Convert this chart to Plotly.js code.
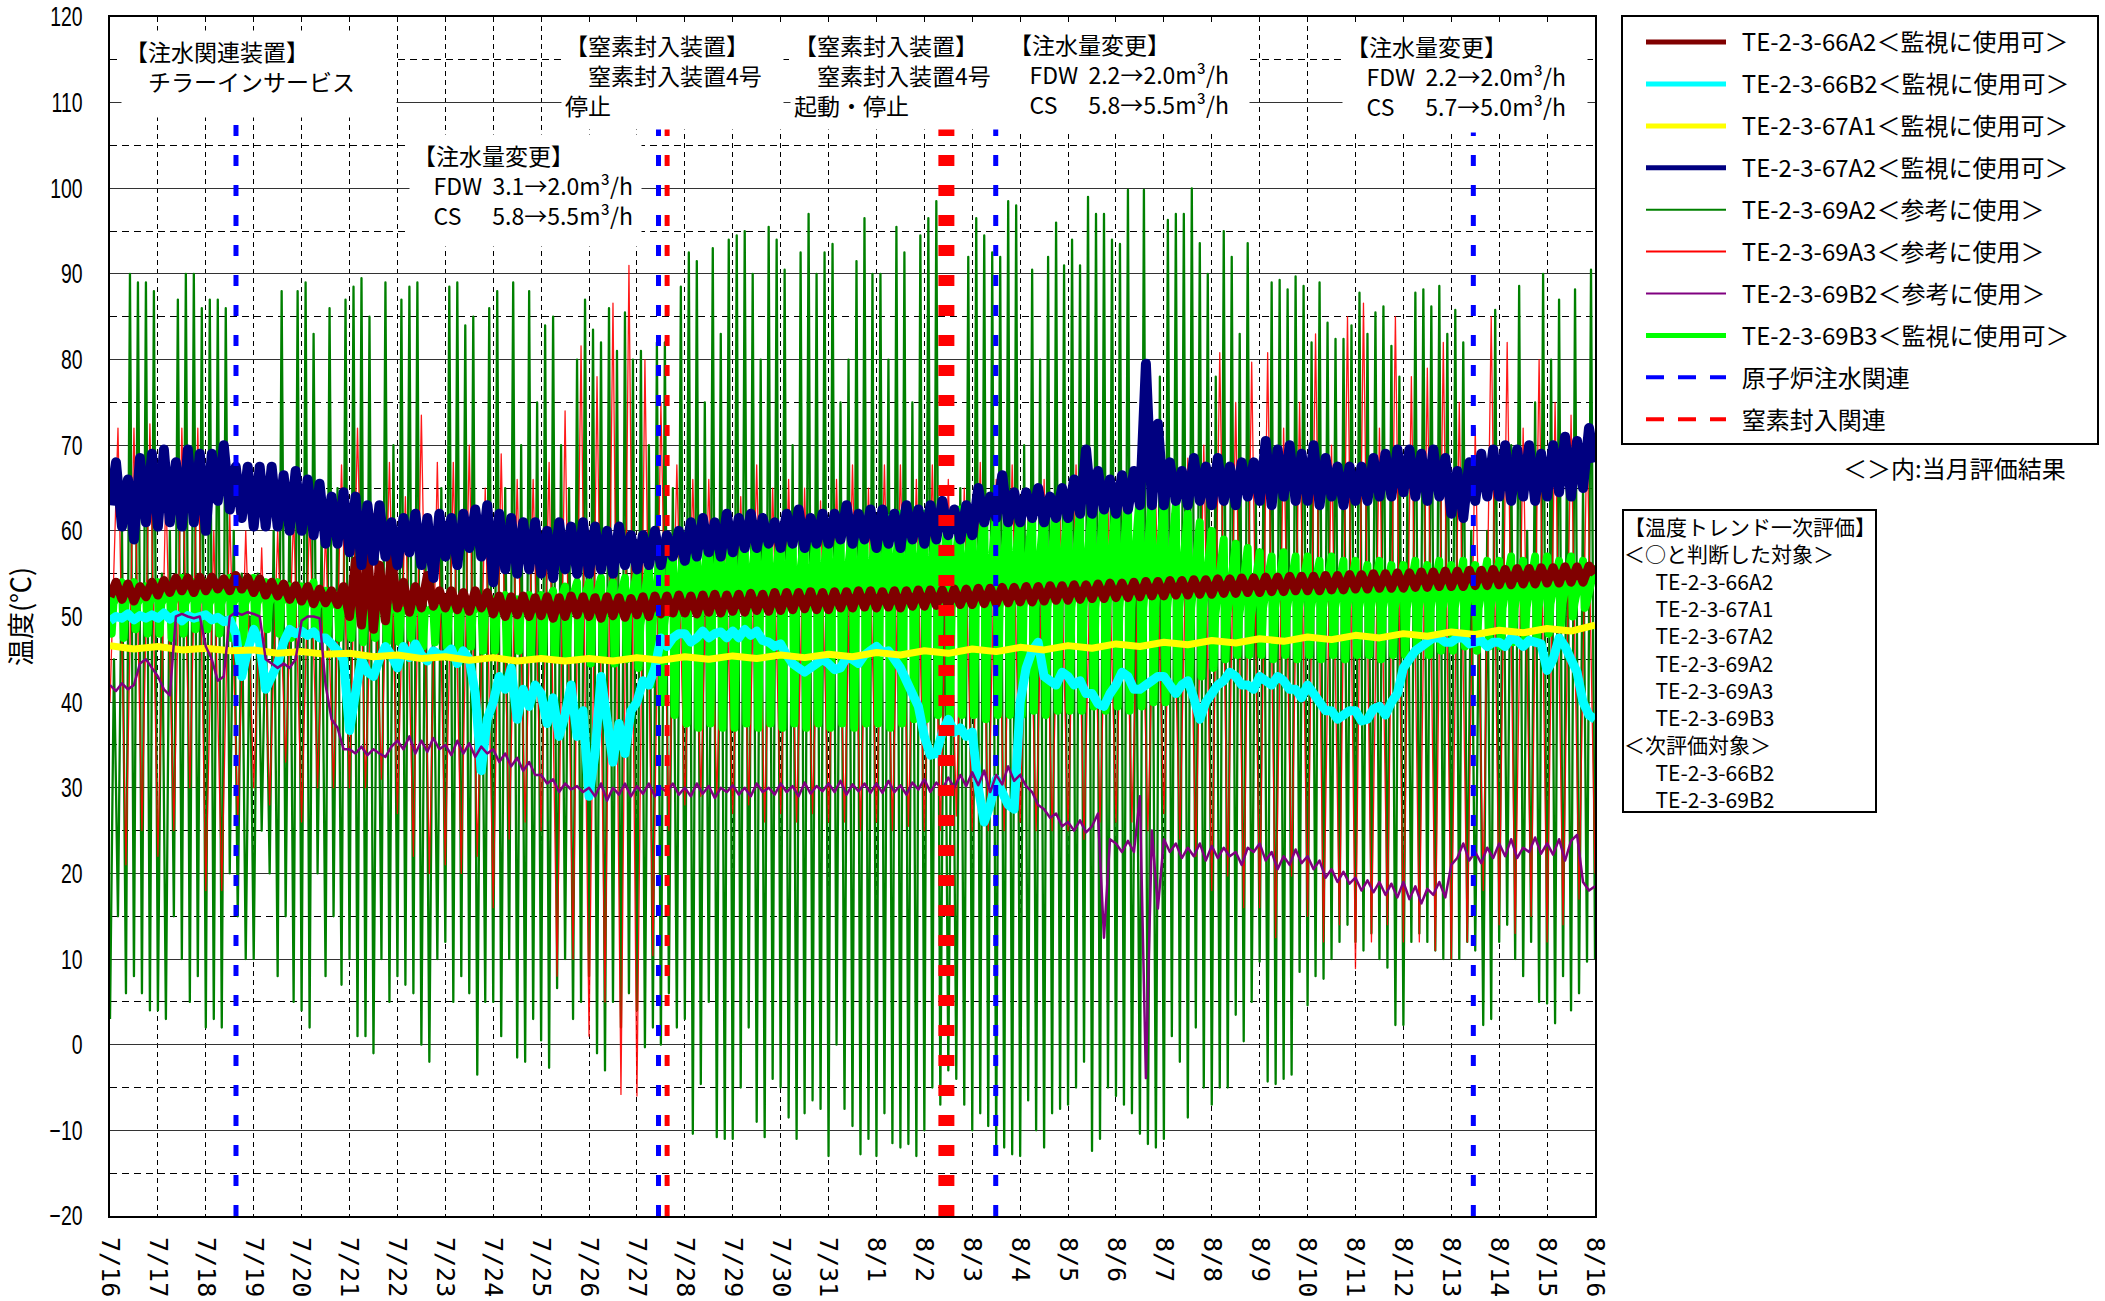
<!DOCTYPE html>
<html><head><meta charset="utf-8">
<script src="https://cdn.plot.ly/plotly-3.0.1.min.js"></script>
<style>
html,body{margin:0;padding:0;background:#fff}
#chart{width:2105px;height:1301px}
path.js-line{stroke-linejoin:round}
</style>
</head><body><div id="chart"></div>
<script>
// ---------- categories / tick labels ----------
const DATE_LABELS = ['7/16','7/17','7/18','7/19','7/20','7/21','7/22','7/23','7/24','7/25','7/26','7/27','7/28','7/29','7/30','7/31',
  '8/1','8/2','8/3','8/4','8/5','8/6','8/7','8/8','8/9','8/10','8/11','8/12','8/13','8/14','8/15','8/16'];
const NAMES = ['TE-2-3-66A2＜監視に使用可＞','TE-2-3-66B2＜監視に使用可＞','TE-2-3-67A1＜監視に使用可＞','TE-2-3-67A2＜監視に使用可＞',
  'TE-2-3-69A2＜参考に使用＞','TE-2-3-69A3＜参考に使用＞','TE-2-3-69B2＜参考に使用＞','TE-2-3-69B3＜監視に使用可＞','原子炉注水関連','窒素封入関連'];

// ---------- event times (days after 7/16 0:00) ----------
const INJECTION_EVENTS = [2.63, 11.45, 18.49, 28.46];
const N2_EVENTS = [11.63, 17.46];

// ---------- series values (°C) ----------
// TE-2-3-66A2 : 8 samples / day
const TE_66A2 = [
52.3,54,52,53.8,51.8,53.5,52.3,54, 52.5,54.2,52.8,54.5,53,54.5,52.8,54.6, 53,54.6,53.2,54.4,53,54.8,53.2,54.5,
52.8,54.4,52.5,54,52.4,53.8,52,53.6, 51.8,53.5,51.5,53.2,51.6,53,51.4,53.5, 50,56.5,49,57.5,48.5,56,49.5,57,
51,54,50.5,53.5,51,54.8,51.2,53, 51,53,50.8,52.8,50.6,53,51,52.8, 50.3,52.4,50,52.3,50.2,52.4,50,52.2,
50.1,52.3,49.8,52.2,50,52.4,50.2,52.3, 50,52.2,49.8,52.3,50.1,52.2,49.9,52.1, 50.2,52.3,50,52.4,50.3,52.4,50.4,52.5,
50.4,52.4,50.3,52.5,50.5,52.6,50.4,52.5, 50.6,52.6,50.5,52.7,50.7,52.6,50.6,52.8, 50.7,52.8,50.8,52.8,50.9,52.9,50.8,52.8,
50.8,52.9,51,52.9,51,53,51.1,53, 51,52.9,51.1,53,51,53,51.2,53.1, 51.2,53.1,51.3,53.1,51.2,53.2,51.4,53.2,
51.4,53.3,51.5,53.3,51.5,53.4,51.6,53.4, 51.7,53.5,51.7,53.5,51.8,53.6,51.9,53.6, 51.9,53.7,52,53.7,52.1,53.8,52.1,53.9,
52.2,53.9,52.2,54,52.3,54.1,52.4,54.1, 52.4,54.2,52.5,54.2,52.5,54.3,52.6,54.3, 52.6,54.4,52.7,54.4,52.7,54.5,52.8,54.5,
52.8,54.6,52.9,54.6,52.9,54.7,53,54.7, 53,54.7,53,54.8,53.1,54.8,53.1,54.9, 53.2,54.9,53.2,55,53.3,55,53.3,55.1,
53.3,55.1,53.4,55.2,53.4,55.2,53.5,55.3, 53.5,55.3,53.5,55.4,53.6,55.4,53.6,55.5, 53.7,55.5,53.7,55.6,53.8,55.6,53.8,55.7,
53.9,55.7,53.9,55.8,54,55.8,54,55.9, 55];
// TE-2-3-66B2 : 8 samples / day
const TE_66B2 = [
49.5,50,49.8,50.3,49.6,50.1,49.8,50.2, 49.8,50.4,49.7,50.2,49.5,50.1,49.8,50, 50.2,49.6,49.9,49.4,49.6,48,43,46,
48.5,47,41.5,43,44.5,47,48.5,48, 48.3,47.8,48.2,47.5,47.5,46.8,46,45, 36.7,41,45,43.5,43,45,46.5,45.5,
44,46.5,45.2,46.8,45.5,44.8,46,45.5, 45.5,46.2,44.5,46,45,41,32,38, 40,43,41.5,44,38,41.5,39.5,42,
41,37.5,40.5,36,38.5,42,36,39, 29,34,43,38,33,37.5,34,39, 40,42.5,42,44,47.5,46.5,47.5,48,
48,47,47.5,48.3,47.5,48,48.2,47.5, 48.3,47.5,48.5,47.8,48.3,47.2,47,46.5, 46.8,45.5,44.5,44,43.5,44,44.5,45,
44.5,43.8,44,45.2,45,44.5,45.5,46, 46.5,45.8,46,45,44,42.5,41,39.5, 36,33.8,34,36.5,38,36.5,37,36,
36.5,30,26,28,31,29.5,28,27.5, 40,44,46,47,43,42.5,42,43.5, 43,42,42.5,41,41,39.8,39.5,41,
42,43.5,43,41.5,41.5,42,42.5,43, 43,42,41,42,42.5,40.5,38,40, 41,42,42.5,43.5,43,42,42,41.5,
43,42.5,42,43,42.5,41.5,41.5,40.5, 42,41,40,39,39,38,38.5,39, 39,37.8,38,39.2,39.5,38.5,40,41,
44,45,46,46.5,47,47.5,47.5,47, 47,47.5,47.5,46.8,47,47.2,46.5,47, 47,46.5,47.5,47.2,46.5,47.2,47,46.8,
43.7,45,47.5,46.5,45,43.5,40,38.5, 38];
// TE-2-3-67A1 : 2 samples / day
const TE_67A1 = [
46.6,46.2, 46.5,46.1, 46.3,46, 46.1,45.7, 45.9,45.6, 45.7,45.3, 45.5,45.1, 45.3,44.9, 45.2,44.8, 45.1,44.8,
45.1,44.8, 45.2,44.9, 45.3,45, 45.4,45.1, 45.5,45.2, 45.6,45.3, 45.8,45.5, 46,45.7, 46.2,45.9, 46.4,46.1,
46.6,46.3, 46.8,46.5, 47,46.7, 47.2,46.9, 47.4,47.1, 47.6,47.3, 47.8,47.5, 48,47.7, 48.2,47.9, 48.4,48.1,
48.6,48.3, 49];
// TE-2-3-67A2 : 8 samples / day
const TE_67A2 = [
63,68,60.5,66,59,68.5,61,69, 60.5,69.5,61,68,60.5,69.5,61,69, 60,69,63.5,70,62.5,67.5,61.5,67.5,
60.5,67.5,60.5,67.5,60.5,66.5,60,67, 60,66,59.5,65.5,58.5,64,58.5,64.5, 57.5,64,56,63,56.5,63,57,61,
56,61.5,57.5,62,56,61.5,54.5,62, 57,61.5,56,62,58,62.5,57,63, 54,62,55.5,61.5,55,61,55.5,61,
55,60,54.5,61,55.5,60.5,55,61, 55,60.5,55.5,60,55,60.5,56,59.5, 55.5,59.5,56,60,56,59.5,57,60,
56.5,61,57,61.5,57.5,61,57,62, 57.5,61.5,58,62,58,61.5,58.5,61, 58,62,58.5,62.5,58,61.5,58.5,62,
58.5,62,59,63,58.5,62,59,62.5, 58,62.5,58.5,62,58,63,59,62.5, 58.5,63,59,63.5,59.5,62.5,59,63,
59.5,65,61,64,61.5,66.5,61,64.5, 61,64.5,61.5,65,61,64,61.5,65, 61.5,66,62,69.5,62,67,62.5,66,
62,66.5,62.5,67,63,79.5,63,72.5, 63,68,63.5,67,63,68.5,63.5,67.5, 63,68.5,63.5,67.5,63,68,64,68,
63.5,70.5,63,69.5,64,70,63.5,69, 63.5,70,63,68.5,64,67.5,63,67.5, 63.5,67.5,63.5,68.5,64,69,64,69.5,
64.5,69.5,64,69,63.5,69.5,64,68.5, 62,67,61.5,68,63.5,69,64,69.5, 64,70,63.5,69.5,64,70,63.5,69,
64,70,64.5,71,64,70.5,65,72, 68];
// TE-2-3-69A2 : 12 samples / day (trough, peak alternating)
const TE_69A2 = [
3,45,15,60,6,90,8,89,6,89,4,88, 4,55,3,60,15,87,10,90,5,90,8,86, 2,87,3,87,2,86,20,60,15,55,10,50,
10,55,25,50,20,60,8,88,15,65,5,88, 4,89,2,83,20,60,8,86,15,65,7,87, 10,88.5,1,89.5,1,85,-1,60,10,89,5,70,
8,87,7,88.5,6,89,0,60,-2,55,10,65, 12,88.5,5,89,8,84,6,85,-3.5,60,5,86, 5,88,1,65,10,89,-1.5,70,-2,88,3,75,
0.5,84,-2.7,85,6.6,70,10,65,3,80,5,87, 8,83.5,-1,82,-3,86,5,81,2,85.5,6,80, 4,81,-0.3,70,2,82,0,82,6,65,2,88.5,
3,92.5,-10.4,91.5,-4.6,75,5,93,-10.8,83,-11,94, -11,94.5,-5,95,2,90,-9,80,-10.8,95.5,-4,94,
-5,90.5,-8.5,70,-11,92.5,-8,97,-6.5,90,-7.5,92.5, -13,93.5,0,75,-7.5,80,-9.5,91.5,-12.8,96.5,-11,90,
-13,90,-8,80,-11.5,95.5,-12,92.5,-11.6,75,-13,94.5, -10,96.5,-5,98.5,-7,60,-3,55,-4,65,-7,92,
-10,96.5,-8,94.5,-9.5,92.5,-12.8,92,-12,98.5,-12.8,98, -13,70,-6.5,90.5,-10,80,-12,92,-8,96,-7.5,91,
-7,94,-5,91,-2,99,-12.4,97,-11,97,-5,94, -6,93.5,-7,99.8,-8,60,-10.4,99.8,-11.6,70,-12,78,
-11,96.3,1,97,-2,97,-8.5,100,2,93.6,-5,90, -7,78,-5,95,-5,92,3.5,83,0.4,93.6,5,65,
9.7,70,-4.3,89,-4.6,89.3,-4,88.2,-3.5,89.7,8.5,88.6, 4.6,82,8,89,7.7,84.3,10,82.4,12,82.4,14,84,
12,87.8,11,83,13,85.5,10,86.2,9,81.6,2.3,78, 2.3,65,12,87.8,13,88.2,12,86.2,11,88.6,10,83,
10,85.8,10,82,12,60,11,55,2.3,60,3,85.8, 12,65,14,70,10,88.6,8,60,12,75,5,90,
4.8,80,2.5,87,8,70,4,88.2,6,65,9.7,90.5, 10];
// TE-2-3-69A3 : 6 samples / day (trough, peak alternating)
const TE_69A3 = [
40,72,21,72,25,72.5, 22,65,25,72,30,72, 18,60,18,62,26,60, 30,58,28,60,33,62, 26,62,30,60,30,67.7, 30,72,30,62,31,68,
27,64,22,73.5,20,68, 21,68,20,70,22,65, 16,69,24,66,26,66, 25,68,8,74,10,81.6, 1,78,5,86.6,-5.8,91, -6,80,10.4,75,25,67.7,
28,66,29,66,29,62, 27,64,28,67.7,26,65, 27,66,26,65,27,63.5, 26,66,26,67.7,25,65, 26,67.7,25,67.7,25.5,66, 25,67.7,25,66,26.7,65,
25,68,25,66,25,67.7, 26,62,25,66,25,62, 25,67.7,24,65,26,63, 26,65,26,64,25,63, 27,62,24,68.5,22,70, 18,80.8,19.7,75,16,79.7,
16,80.8,12.5,72,19.7,75, 15,83,12,70,14,85, 8.9,86.6,12,72,14,85, 12,78,12,79,11,82, 10,75,12,72,18,85, 14,82,13,72,15,80,
12,75,14,73.5,17,72, 20];
// TE-2-3-69B2 : 8 samples / day
const TE_69B2 = [
42,41.3,42.2,41.5,42,44.5,45,44, 43,41.5,40.8,50,50.3,50,49.8,50, 46.5,45,42.5,43,50,50.5,50.2,50.5,
50.3,50,45,44.5,44,44.5,44,45, 49.5,50,50,49.8,42,38,37,34.5, 34.5,34,34.8,33.8,34.5,34,33.6,34.8,
35.5,34.5,36,34,35.5,34.2,35.8,34.5, 35,33.8,35.5,34,35.2,33.6,34.8,34, 34.5,33,34,32.5,33.5,32,33,31.5,
31.5,30.5,31,29.5,30.5,29.8,30.2,29.5, 30,29,30.5,28.5,30,29.2,30.5,29, 30.2,29.3,30.5,29,30,29.5,30.5,29.2,
30,29,30.5,29.3,30.2,28.8,30,29.5, 30.3,29.2,30,29,30.5,29.5,30,29.2, 30.5,29.5,30.2,29,30.6,29.3,30.2,29.6,
30.5,29.5,30.8,29.2,30.4,29.6,30.5,29.4, 30.5,29.4,30.8,29.5,30.3,29.2,30.6,29.8, 31,29.5,30.6,29.8,31.2,30,31.5,30.2,
31.8,30.3,32,29.5,31.5,30.4,32.5,30.8, 31.5,30.2,29.5,28,27.5,26.5,27,25.5, 26,25,26.2,24.8,25.5,27,12.5,24,
23.5,22.5,23.8,22.5,29,-3.9,25,15.9, 24,22.5,23.5,21.8,23,22,23.5,21.5, 23.2,21.8,23,22,22.5,21,23,22.5,
23.5,21.5,22.5,20.5,22,21,22.8,21.2, 22,20.5,21.5,19.5,20.5,19,20.2,18.8, 19.5,18,19.2,17.8,19,17.5,18.8,17.2,
19,17,18.5,16.5,18.2,17.5,19,17.2, 21,21.8,23.5,21.5,22.5,21.2,23,21.8, 23.5,22,24,21.8,23,22.5,24.2,22.3,
23.5,22.2,24,21.5,23.8,24.5,19,18, 18.5];
// TE-2-3-69B3 : 4 cycles / day — level before each drop, bottom of each drop, daily recovery level
const TE_69B3_TOP = [
53.5,54,54,53.5, 54,53.5,54.5,54, 54,53.5,54.5,54, 54.5,54,54,53.5, 53.5,54,53,52.5, 52,52.5,52,51.5,
51.5,51,51.5,51, 51.5,52,51.5,52, 52,52.5,52,52.5, 52.5,53,53.5,54, 54,54.5,54,54.5, 55,56,58,59,
59.5,60,59.5,60, 60,59.5,60,60.5, 60,60.5,59.5,60, 60.5,61,60.5,61, 61,61.5,62,61.5, 62,61.5,62,62.5,
62,62.5,62,62.5, 62.5,62,62.5,63, 63,62.5,63,63.5, 63.5,64,64.5,64, 63.5,63,62,61, 60,59,58.5,58,
57.5,57,57.5,57, 57,56.5,57,56.5, 56.5,56,56.5,56, 56,56.5,56,56.5, 56,56.5,56,56.5, 56.5,57,56.5,57,
57,56.5,57,56.5];
const TE_69B3_DIP = [
48,47.5,48.5,48, 48,47.5,48,48.5, 48.5,48,47.5,47, 48,48.5,48,47.5, 48.5,48,47.5,47.5, 47.5,47,47.5,47,
47,47.5,46.5,47, 46.5,46,46.5,46, 46,45.5,46,45.5, 45.5,45,45,45, 44.5,45,44.5,45, 44,42,40,38.5,
37.5,37,37.5,37, 37,37.5,37,37.5, 37,37.5,37,37.5, 37,37.5,37,37.5, 37.5,37,37.5,38, 38,38.5,38,38.5,
38.5,38,38.5,38.5, 38.5,39,38.5,39, 39,39,39.5,39, 39.5,39,39.5,40, 40,41,42,43, 44,45,45.5,45.5,
45.5,45,45.5,45, 45.5,45,45.5,45, 45.5,45.5,45,45.5, 45.5,46,45.5,46, 46,46.5,46,46.5, 46.5,47,47,47.5,
48,49,50,51];
const TE_69B3_REC = [51.5,51.5,51.5,51.5,51,50.5,50.5,50.5,50.5,50.5,50.5,49,51,51,51,51,51,51,51,51,51,51,51,50,51,51,51,51,51,51,51.5];
const TE_69B3_END = 56;

// ---------- build ----------
const tGrid = (n, perDay) => Array.from({length: n}, (_, i) => i / perDay);
const JP = '"Noto Sans CJK JP", sans-serif';

// 69B3 path: each cycle = level, quick drop, quick partial recovery, slow climb to next level
const limeX = [], limeY = [];
TE_69B3_TOP.forEach((top, c) => {
  const tc = c / 4;
  limeX.push(tc, tc + 0.035, tc + 0.07);
  limeY.push(top, TE_69B3_DIP[c], TE_69B3_REC[Math.floor(tc)]);
});
limeX.push(31); limeY.push(TE_69B3_END);

const drawOrder = [
  {x: tGrid(TE_69A2.length, 12), y: TE_69A2, color: '#008000', width: 2.3},
  {x: tGrid(TE_69A3.length, 6), y: TE_69A3, color: 'rgba(255,0,0,0.9)', width: 1.3},
  {x: limeX, y: limeY, color: '#00FF00', width: 8},
  {x: tGrid(TE_66B2.length, 8), y: TE_66B2, color: '#00FFFF', width: 9},
  {x: tGrid(TE_67A1.length, 2), y: TE_67A1, color: '#FFFF00', width: 7},
  {x: tGrid(TE_69B2.length, 8), y: TE_69B2, color: '#800080', width: 2.5},
  {x: tGrid(TE_66A2.length, 8), y: TE_66A2, color: '#800000', width: 9},
  {x: tGrid(TE_67A2.length, 8), y: TE_67A2, color: '#000080', width: 10}
];
const traces = drawOrder.map(s => ({
  type: 'scatter', mode: 'lines', x: s.x, y: s.y,
  line: {color: s.color, width: s.width, simplify: false}, showlegend: false, hoverinfo: 'skip'
}));
const DASH = '11px,19px';
INJECTION_EVENTS.forEach(t => traces.push({type: 'scatter', mode: 'lines', x: [t, t], y: [-20, 120],
  line: {color: '#0000FF', width: 5, dash: DASH}, showlegend: false, hoverinfo: 'skip'}));
traces.push({type: 'scatter', mode: 'lines', x: [N2_EVENTS[0], N2_EVENTS[0]], y: [-20, 120],
  line: {color: '#FF0000', width: 5, dash: DASH}, showlegend: false, hoverinfo: 'skip'});
traces.push({type: 'scatter', mode: 'lines', x: [N2_EVENTS[1], N2_EVENTS[1]], y: [-20, 120],
  line: {color: '#FF0000', width: 16, dash: DASH}, showlegend: false, hoverinfo: 'skip'});

// legend entries
const legendStyle = [
  {color: '#800000', width: 5}, {color: '#00FFFF', width: 5}, {color: '#FFFF00', width: 5}, {color: '#000080', width: 5},
  {color: '#008000', width: 2}, {color: '#FF0000', width: 2}, {color: '#800080', width: 2}, {color: '#00FF00', width: 5},
  {color: '#0000FF', width: 4, dash: '18px,14px'}, {color: '#FF0000', width: 4, dash: '18px,14px'}
];
const NB = '\u00A0', ZS = '\u3000';
NAMES.forEach((nm, i) => traces.push({type: 'scatter', mode: 'lines', x: [null], y: [null], name: NB + NB + nm,
  legendgroup: 'g' + i, legendrank: i + 1, line: legendStyle[i], showlegend: true, hoverinfo: 'skip'}));

// pixel helpers (plot area 110..1595 x 17..1216)
const PL = 110, PW = 1485, PB = 1216, PH = 1199;
const px = v => (v - PL) / PW, py = v => (PB - v) / PH;

function box(x, y, w, h, text, size) {
  return {xref: 'paper', yref: 'paper', x: px(x), y: py(y), xanchor: 'left', yanchor: 'top',
    width: w, height: h, text: text, showarrow: false, align: 'left', valign: 'top',
    bgcolor: '#FFFFFF', borderpad: 3, font: {family: JP, size: size, color: '#000'}};
}
const flow = (fdw, cs) => '【注水量変更】<br>' + NB.repeat(4) + 'FDW' + NB + NB + fdw + 'm³/h<br>' + NB.repeat(4) + 'CS' + NB.repeat(6) + cs + 'm³/h';
const annotations = [
  box(121, 30, 268, 80, '【注水関連装置】<br>' + ZS + 'チラーインサービス', 23),
  box(561, 24, 215, 98, '【窒素封入装置】<br>' + ZS + '窒素封入装置4号<br>停止', 23),
  box(790, 24, 212, 98, '【窒素封入装置】<br>' + ZS + '窒素封入装置4号<br>起動・停止', 23),
  box(1005, 23, 237, 100, flow('2.2→2.0', '5.8→5.5'), 23),
  box(1342, 25, 238, 100, flow('2.2→2.0', '5.7→5.0'), 23),
  box(409, 134, 225, 105, flow('3.1→2.0', '5.8→5.5'), 23),
  {xref: 'paper', yref: 'paper', x: px(2068), y: py(468), xanchor: 'right', yanchor: 'middle', showarrow: false,
    text: '＜＞内:当月評価結果', font: {family: JP, size: 24, color: '#000'}},
  {xref: 'paper', yref: 'paper', x: px(1622), y: py(509), xanchor: 'left', yanchor: 'top', showarrow: false,
    width: 251, height: 300, align: 'left', valign: 'top', bgcolor: '#FFFFFF', bordercolor: '#000', borderwidth: 2, borderpad: 0,
    font: {family: JP, size: 21, color: '#000'},
    text: ['【温度トレンド一次評価】', '＜○と判断した対象＞', ZS + '\u2002TE-2-3-66A2', ZS + '\u2002TE-2-3-67A1', ZS + '\u2002TE-2-3-67A2',
      ZS + '\u2002TE-2-3-69A2', ZS + '\u2002TE-2-3-69A3', ZS + '\u2002TE-2-3-69B3', '＜次評価対象＞', ZS + '\u2002TE-2-3-66B2', ZS + '\u2002TE-2-3-69B2'].join('<br>')}
];

const layout = {
  width: 2105, height: 1301, paper_bgcolor: '#FFFFFF', plot_bgcolor: '#FFFFFF',
  margin: {l: 110, r: 510, t: 17, b: 85, autoexpand: false},
  showlegend: true,
  legend: {x: px(1641), y: py(20), xanchor: 'left', yanchor: 'top', traceorder: 'grouped', tracegroupgap: 7.7,
    itemwidth: 80, bgcolor: 'rgba(0,0,0,0)', borderwidth: 0, font: {family: JP, size: 24, color: '#000'}},
  xaxis: {type: 'linear', range: [0, 31], tickmode: 'array', tickvals: DATE_LABELS.map((_, i) => i), ticktext: DATE_LABELS,
    tickangle: 90, ticks: '', ticklabelstandoff: 14, showgrid: true, gridcolor: '#000', gridwidth: 1, griddash: '5px,4px',
    zeroline: false, showline: true, mirror: true, linecolor: '#000', linewidth: 2,
    tickfont: {family: '"DejaVu Sans Mono", monospace', size: 25, color: '#000'}, fixedrange: true},
  yaxis: {range: [-20, 120], tickmode: 'linear', tick0: 0, dtick: 10, ticks: '', ticklabelstandoff: 20,
    showgrid: true, gridcolor: '#333', gridwidth: 1, zeroline: false, showline: true, mirror: true, linecolor: '#000', linewidth: 2,
    minor: {dtick: 5, tick0: 0, showgrid: true, gridcolor: '#000', gridwidth: 1, griddash: '7px,5px', ticks: ''},
    tickfont: {family: '"Liberation Sans", sans-serif', size: 27, color: '#000'},
    title: {text: '温度(℃)', font: {family: JP, size: 27, color: '#000'}, standoff: 6}, fixedrange: true},
  shapes: [{type: 'rect', xref: 'paper', yref: 'paper', x0: px(1622), x1: px(2098), y0: py(444), y1: py(16),
    line: {color: '#000', width: 2}, fillcolor: 'rgba(0,0,0,0)', layer: 'above'}],
  annotations: annotations
};
Plotly.newPlot('chart', traces, layout, {displayModeBar: false, staticPlot: true}).then(() => {
  // condensed look of the value labels, as in the reference
  document.querySelectorAll('.ytick text').forEach(t => {
    const w = t.getComputedTextLength();
    if (w > 0) { t.setAttribute('textLength', (w * 0.72).toFixed(1)); t.setAttribute('lengthAdjust', 'spacingAndGlyphs'); }
  });
});
</script>
</body></html>
